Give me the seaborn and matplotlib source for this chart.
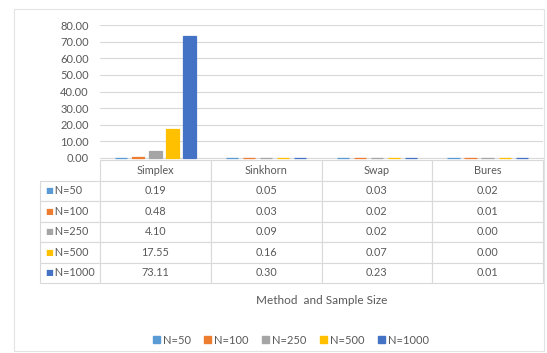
import numpy as np
import pandas as pd
import matplotlib
matplotlib.use("Agg")
import matplotlib.pyplot as plt
from matplotlib.patches import Rectangle, Patch
import seaborn as sns

methods = ["Simplex", "Sinkhorn", "Swap", "Bures"]
sizes = ["N=50", "N=100", "N=250", "N=500", "N=1000"]
n50 = [0.19, 0.05, 0.03, 0.02]
n100 = [0.48, 0.03, 0.02, 0.01]
n250 = [4.10, 0.09, 0.02, 0.00]
n500 = [17.55, 0.16, 0.07, 0.00]
n1000 = [73.11, 0.30, 0.23, 0.01]
colors = ["#5B9BD5", "#ED7D31", "#A5A5A5", "#FFC000", "#4472C4"]

series = [n50, n100, n250, n500, n1000]
df = pd.DataFrame({
    "method": np.repeat([methods], len(sizes), axis=0).ravel(),
    "size": np.repeat(sizes, len(methods)),
    "value": np.concatenate(series),
})

sns.set_style("white")
plt.rcParams["font.family"] = ["Lato", "DejaVu Sans"]
text_col = "#595959"
grid_col = "#D9D9D9"

W, H = 547, 353
fig = plt.figure(figsize=(W / 100, H / 100), dpi=100)
# plot area in pixel terms of the reference
x0, x1, y0, y1 = 100, 543, 25, 158
ax = fig.add_axes([x0 / W, 1 - y1 / H, (x1 - x0) / W, (y1 - y0) / H])

sns.barplot(data=df, x="method", y="value", hue="size", order=methods,
            hue_order=sizes, palette=colors, saturation=1, width=0.77,
            gap=0.28, ax=ax, legend=False)
# tiny values still show as a thin dash on the baseline, like Excel
for p in ax.patches:
    p.set_edgecolor(p.get_facecolor())
    p.set_linewidth(0.9)
    p.set_zorder(3)
    p.set_clip_on(False)

ax.set_ylim(0, 80)
ax.set_xlim(-0.5, len(methods) - 0.5)
ax.set_yticks(np.arange(0, 81, 10))
ax.set_yticklabels([f"{v:.2f}" for v in np.arange(0, 81, 10)],
                   color=text_col, fontsize=8)
ax.tick_params(axis="y", length=0, pad=8)
ax.set_xticks([])
ax.set_xlabel("")
ax.set_ylabel("")
ax.yaxis.grid(True, color=grid_col, linewidth=0.8)
ax.set_axisbelow(True)
for s in ["top", "right", "left"]:
    ax.spines[s].set_visible(False)
ax.spines["bottom"].set_color(grid_col)
ax.spines["bottom"].set_zorder(1)

# data table beneath the bars
cell_text = [[""] + methods]
for lab, vals in zip(sizes, series):
    cell_text.append(["     " + lab] + [f"{v:.2f}" for v in vals])
plot_w = x1 - x0
t_left, t_top, t_bot = 40, 160, 283
label_w = (x0 - t_left) / plot_w
bbox = [(t_left - x0) / plot_w, (y1 - t_bot) / (y1 - y0),
        (x1 - t_left) / plot_w, (t_bot - t_top) / (y1 - y0)]
col_w = [label_w] + [1 / len(methods)] * len(methods)
tab = ax.table(cellText=cell_text, colWidths=col_w, bbox=bbox,
               cellLoc="center")
tab.auto_set_font_size(False)
tab.set_fontsize(7.8)
for (r, c), cell in tab.get_celld().items():
    cell.set_edgecolor(grid_col)
    cell.set_linewidth(0.8)
    cell.get_text().set_color(text_col)
    if c == 0:
        cell.get_text().set_ha("left")
        cell.PAD = 0.02
    if r == 0 and c == 0:
        cell.visible_edges = ""

nrows = len(sizes) + 1
row_h = bbox[3] / nrows
for i, col in enumerate(colors):
    yc = bbox[1] + bbox[3] - (i + 1.5) * row_h
    ax.text(bbox[0] + 0.012, yc, "\u25A0", color=col, fontsize=6,
            va="center", ha="left", transform=ax.transAxes,
            family="DejaVu Sans")

fig.text((x0 + x1) / 2 / W, 1 - 300 / H, "Method  and Sample Size",
         ha="center", va="center", fontsize=8.5, color=text_col)

handles = [Patch(facecolor=c, edgecolor=c) for c in colors]
leg = fig.legend(handles, sizes, loc="center", ncol=5, frameon=False,
                 bbox_to_anchor=(291 / W, 1 - 340 / H), fontsize=8,
                 handlelength=0.6, handleheight=0.6, handletextpad=0.3,
                 columnspacing=1.2)
for t in leg.get_texts():
    t.set_color(text_col)

fig.add_artist(Rectangle((14 / W, 1 - 351 / H), (544 - 14) / W, (351 - 9) / H,
                         transform=fig.transFigure, fill=False,
                         edgecolor="#E3E3E3", linewidth=0.8))

fig.savefig("out.png", dpi=100, facecolor="white")
